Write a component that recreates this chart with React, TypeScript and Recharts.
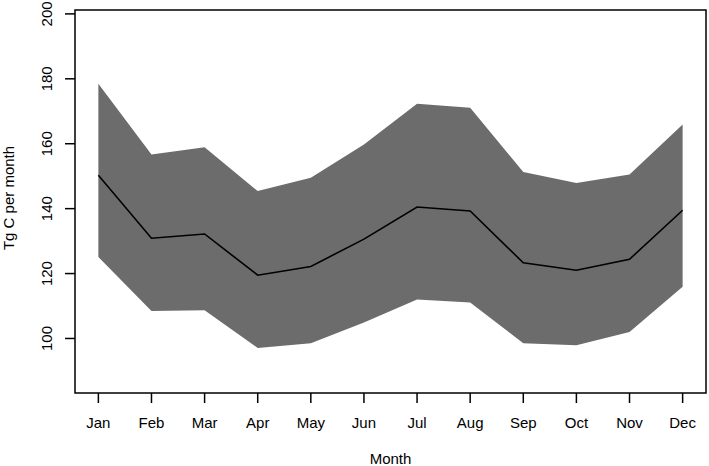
import { ComposedChart, Area, Line, XAxis, YAxis, ReferenceArea } from "recharts";

const MONTHS = ["Jan", "Feb", "Mar", "Apr", "May", "Jun", "Jul", "Aug", "Sep", "Oct", "Nov", "Dec"];
const MEAN = [150.3, 130.9, 132.2, 119.5, 122.2, 130.6, 140.5, 139.3, 123.3, 121.0, 124.4, 139.5];
const UPPER = [178.5, 156.7, 158.9, 145.4, 149.5, 159.8, 172.3, 171.1, 151.3, 147.9, 150.5, 165.9];
const LOWER = [125.1, 108.5, 108.7, 97.1, 98.5, 104.9, 112.0, 111.1, 98.5, 97.9, 102.0, 115.9];
const Y_TICKS = [100, 120, 140, 160, 180, 200];
const X_TICKS = [1, 2, 3, 4, 5, 6, 7, 8, 9, 10, 11, 12];

const X_DOMAIN: [number, number] = [0.56, 12.44];
const Y_DOMAIN: [number, number] = [83.2, 201.2];

const FONT = "'Liberation Sans', Arial, Helvetica, sans-serif";

const data = MONTHS.map((m, i) => ({
  month: i + 1,
  name: m,
  mean: MEAN[i],
  band: [LOWER[i], UPPER[i]],
}));

const W = 709;
const H = 466;
const PLOT_BOTTOM = 393;

function XTick(props: any) {
  const { x, payload } = props;
  return (
    <text x={x} y={PLOT_BOTTOM + 35} textAnchor="middle" fontSize={15} fontFamily={FONT} fill="#000">
      {MONTHS[payload.value - 1]}
    </text>
  );
}

function YTick(props: any) {
  const { y, payload } = props;
  const bx = 52;
  return (
    <text x={bx} y={y} transform={`rotate(-90, ${bx}, ${y})`} textAnchor="middle" fontSize={15} fontFamily={FONT} fill="#000">
      {payload.value}
    </text>
  );
}

export default function App() {
  return (
    <div style={{ position: "absolute", left: 0, top: 0, width: W, height: H, background: "#fff" }}>
      <ComposedChart width={W} height={H} data={data} margin={{ top: 10, right: 3, left: 0, bottom: 0 }}>
        <XAxis
          dataKey="month"
          type="number"
          domain={X_DOMAIN}
          ticks={X_TICKS}
          interval={0}
          allowDataOverflow
          height={H - PLOT_BOTTOM}
          axisLine={false}
          tickSize={10}
          tickLine={{ stroke: "#000", strokeWidth: 1.5 }}
          tick={<XTick />}
          label={{
            content: () => (
              <text x={390.5} y={464} textAnchor="middle" fontSize={15} fontFamily={FONT} fill="#000">
                Month
              </text>
            ),
          }}
        />
        <YAxis
          type="number"
          domain={Y_DOMAIN}
          ticks={Y_TICKS}
          interval={0}
          allowDataOverflow
          width={75}
          axisLine={false}
          tickSize={10}
          tickLine={{ stroke: "#000", strokeWidth: 1.5 }}
          tick={<YTick />}
          label={{
            content: () => (
              <text x={14} y={198} transform="rotate(-90, 14, 198)" textAnchor="middle" fontSize={15} fontFamily={FONT} fill="#000">
                Tg C per month
              </text>
            ),
          }}
        />
        <Area
          dataKey="band"
          type="linear"
          stroke="none"
          fill="#6c6c6c"
          fillOpacity={1}
          isAnimationActive={false}
          dot={false}
          activeDot={false}
        />
        <Line
          dataKey="mean"
          type="linear"
          stroke="#000"
          strokeWidth={1.6}
          dot={false}
          activeDot={false}
          isAnimationActive={false}
        />
        <ReferenceArea
          x1={X_DOMAIN[0]}
          x2={X_DOMAIN[1]}
          y1={Y_DOMAIN[0]}
          y2={Y_DOMAIN[1]}
          fill="none"
          stroke="#000"
          strokeWidth={1.5}
          ifOverflow="visible"
        />
      </ComposedChart>
    </div>
  );
}
